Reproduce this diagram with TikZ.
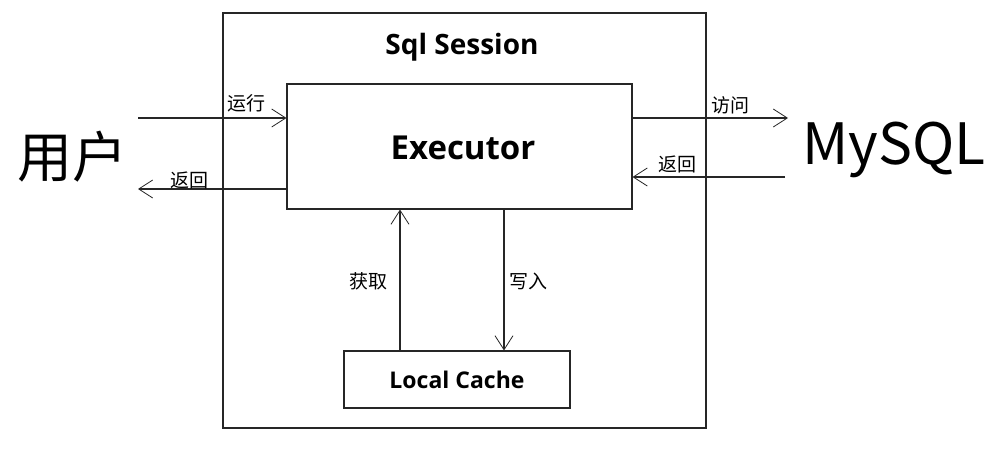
\documentclass[tikz,border=0pt]{standalone}
\usepackage{fontspec}
\setmainfont{Noto Sans CJK SC}
\newfontfamily\latinbold{Open Sans}
\usetikzlibrary{arrows.meta}
\begin{document}
\begin{tikzpicture}[x=1pt,y=-1pt,
  box/.style={draw=black!85,line width=1.1pt,inner sep=0pt},
  conn/.style={draw=black!85,line width=1.1pt,-{Straight Barb[length=14pt,width=18pt,line width=0.8pt]}},
  lbl/.style={font=\fontsize{19}{21}\selectfont,inner sep=0pt},
  title/.style={font=\latinbold\bfseries\fontsize{28}{32}\selectfont}]
\useasboundingbox (0,0) rectangle (993,450);
\fill[white] (0,0) rectangle (993,450);
\node[box,minimum width=483pt,minimum height=415pt] (session) at (464.5,220.5) {};
\node[title] (st) at (462,47) {Sql Session};
\node[box,minimum width=345pt,minimum height=125pt] (exec) at (459.5,146.5) {};
\node[title,font=\latinbold\bfseries\fontsize{33}{38}\selectfont] (et) at (463,148) {Executor};
\node[box,minimum width=226pt,minimum height=57pt,font=\latinbold\bfseries\fontsize{23}{26}\selectfont] (cache) at (457,379.5) {Local Cache};
\node[font=\fontsize{55}{60}\selectfont,inner sep=0pt] (user) at (72,157) {用户};
\node[font=\fontsize{57}{62}\selectfont,inner sep=0pt] (mysql) at (894,150) {MySQL};
\coordinate (uin) at (138,118);
\coordinate (uout) at (138,189);
\coordinate (min) at (788,118);
\coordinate (mout) at (785,177);
\draw[conn] (uin) -- (uin -| exec.west);
\draw[conn] (exec.west |- uout) -- (uout);
\draw[conn] (exec.east |- min) -- (min);
\draw[conn] (mout) -- (exec.east |- mout);
\draw[conn] (cache.north -| 400,0) -- (exec.south -| 400,0);
\draw[conn] (exec.south -| 504,0) -- (cache.north -| 504,0);
\node[lbl] (l1) at (246,103) {运行};
\node[lbl] (l2) at (189,180) {返回};
\node[lbl] (l3) at (730,105) {访问};
\node[lbl] (l4) at (677,164) {返回};
\node[lbl] (l5) at (368,281) {获取};
\node[lbl] (l6) at (528,281) {写入};
\end{tikzpicture}
\end{document}
